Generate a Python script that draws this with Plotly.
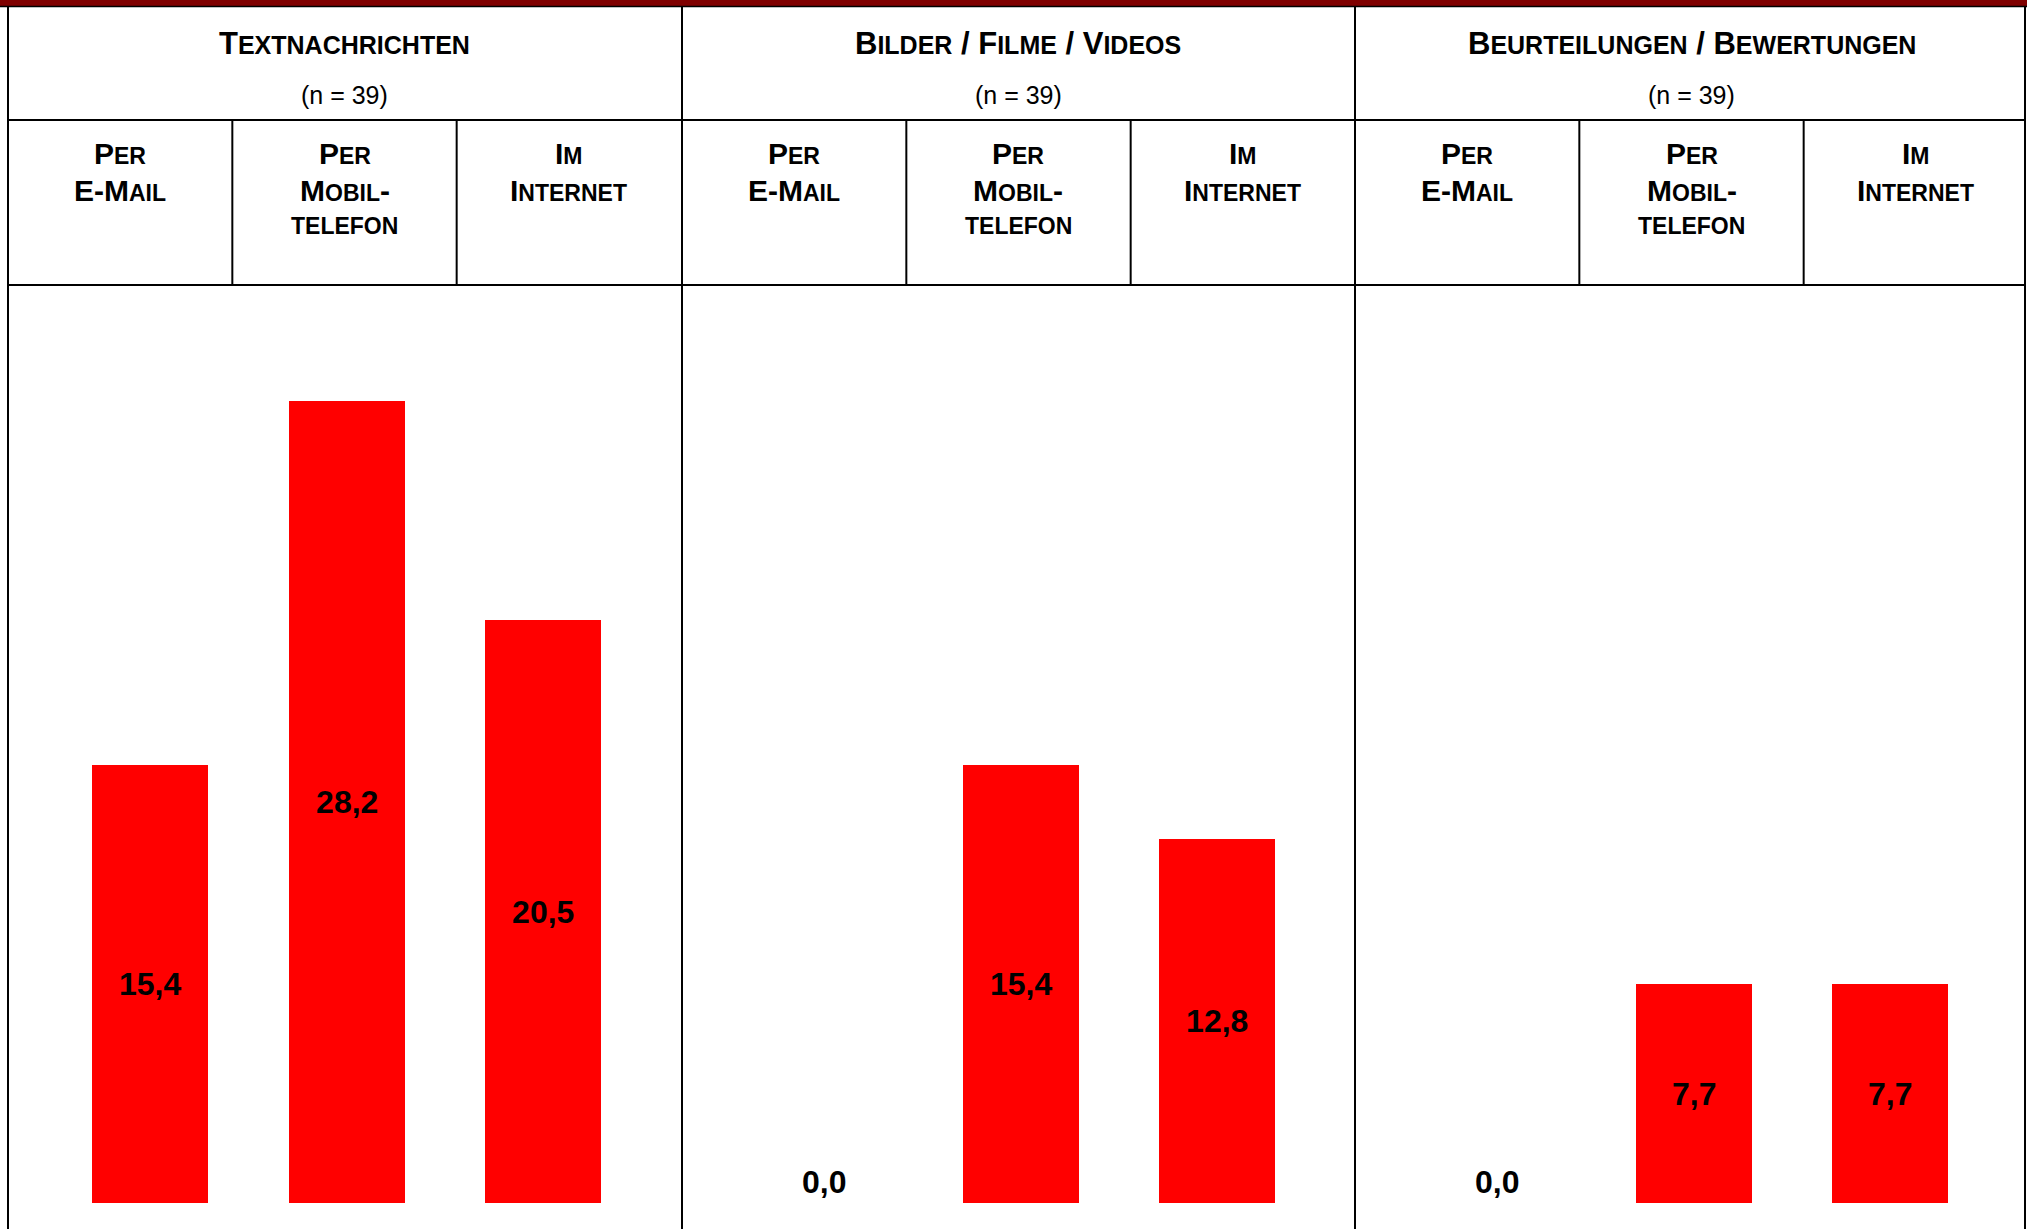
import plotly.graph_objects as go

# ---------------- data ----------------
panel_titles = ["Textnachrichten", "Bilder / Filme / Videos", "Beurteilungen / Bewertungen"]
panel_n = [39, 39, 39]
categories = ["Per E-Mail", "Per Mobiltelefon", "Im Internet"]
category_header_lines = [["Per", "E-Mail"], ["Per", "Mobil-", "telefon"], ["Im", "Internet"]]
values_textnachrichten = [15.4, 28.2, 20.5]
values_bilder = [0.0, 15.4, 12.8]
values_beurteilungen = [0.0, 7.7, 7.7]
series = [values_textnachrichten, values_bilder, values_beurteilungen]

# ---------------- layout constants (pixels) ----------------
W, H = 2029, 1229
FONT = "Liberation Sans, Arial, sans-serif"
panel_left = [8, 682, 1355]
panel_w = 673
table_right = 2025
row1_y, row2_y = 120, 285
base_y = 1203
px_per_unit = 28.44
plot_top_y = 290


def px(x):
    return x / W


def py(y):
    return 1 - y / H


def small_caps(text, big, small):
    out = []
    run, run_small = "", None
    for ch in text:
        is_small = ch.islower()
        if run_small is None or is_small == run_small:
            run += ch.upper()
            run_small = is_small
        else:
            out.append((run, run_small))
            run, run_small = ch.upper(), is_small
    if run:
        out.append((run, run_small))
    return "".join(
        f'<span style="font-size:{small if s else big}px">{r}</span>' for r, s in out
    )


fig = go.Figure()

for k, vals in enumerate(series):
    xa = "x" if k == 0 else f"x{k+1}"
    ya = "y" if k == 0 else f"y{k+1}"
    fig.add_trace(go.Bar(
        x=categories, y=vals, xaxis=xa, yaxis=ya,
        marker=dict(color="#FF0000", line=dict(width=0)),
        width=0.59,
        texttemplate="<b>%{y:.1f}</b>",
        textposition=["outside" if v == 0 else "inside" for v in vals],
        insidetextanchor="middle",
        textfont=dict(family=FONT, size=32, color="black"),
        insidetextfont=dict(family=FONT, size=32, color="black"),
        outsidetextfont=dict(family=FONT, size=32, color="black"),
        cliponaxis=False,
        showlegend=False,
        hoverinfo="skip",
    ))

yrange = (base_y - plot_top_y) / px_per_unit
layout_axes = {}
for k in range(3):
    cat_w = panel_w * 0.292
    left = panel_left[k] + 44.25
    right = left + 3 * cat_w
    xkey = "xaxis" if k == 0 else f"xaxis{k+1}"
    ykey = "yaxis" if k == 0 else f"yaxis{k+1}"
    layout_axes[xkey] = dict(domain=[px(left), px(right)], visible=False,
                             range=[-0.5, 2.5], fixedrange=True,
                             anchor="y" if k == 0 else f"y{k+1}")
    layout_axes[ykey] = dict(domain=[py(base_y), py(plot_top_y)], visible=False,
                             range=[0, yrange], anchor="x" if k == 0 else f"x{k+1}",
                             fixedrange=True)

shapes = []
line = dict(color="black", width=2)
# top dark red band
shapes.append(dict(type="rect", xref="paper", yref="paper", x0=0, x1=px(2027),
                   y0=py(6), y1=1, fillcolor="#7F0000", line=dict(width=0), layer="above"))
shapes.append(dict(type="line", xref="paper", yref="paper", x0=0, x1=px(2027),
                   y0=py(6.5), y1=py(6.5), line=dict(color="black", width=1.5)))
# vertical panel lines
for x in panel_left + [table_right]:
    shapes.append(dict(type="line", xref="paper", yref="paper", x0=px(x), x1=px(x),
                       y0=py(7), y1=0, line=line))
# horizontal header lines
for y in (row1_y, row2_y):
    shapes.append(dict(type="line", xref="paper", yref="paper", x0=px(8), x1=px(table_right),
                       y0=py(y), y1=py(y), line=line))
# sub-column dividers
for k in range(3):
    for j in (1, 2):
        x = panel_left[k] + panel_w * j / 3
        shapes.append(dict(type="line", xref="paper", yref="paper", x0=px(x), x1=px(x),
                           y0=py(row1_y), y1=py(row2_y), line=line))

annotations = []
for k in range(3):
    cx = panel_left[k] + panel_w / 2
    annotations.append(dict(
        xref="paper", yref="paper", x=px(cx), y=py(43), xanchor="center", yanchor="middle",
        text="<b>" + small_caps(panel_titles[k], 31, 25) + "</b>", showarrow=False,
        font=dict(family=FONT, size=31, color="black")))
    annotations.append(dict(
        xref="paper", yref="paper", x=px(cx), y=py(95), xanchor="center", yanchor="middle",
        text=f"(n = {panel_n[k]})", showarrow=False,
        font=dict(family=FONT, size=25, color="black")))
    sub_w = panel_w / 3
    baselines = [164, 201, 234]
    for j, lines in enumerate(category_header_lines):
        scx = panel_left[k] + sub_w * (j + 0.5)
        for li, txt in enumerate(lines):
            has_big = any(c.isupper() for c in txt)
            size = 30 if has_big else 23
            annotations.append(dict(
                xref="paper", yref="paper", x=px(scx), y=py(baselines[li] - 0.35 * size),
                xanchor="center", yanchor="middle",
                text="<b>" + small_caps(txt, 30, 23) + "</b>", showarrow=False,
                font=dict(family=FONT, size=size, color="black")))

fig.update_layout(
    width=W, height=H, margin=dict(l=0, r=0, t=0, b=0),
    paper_bgcolor="white", plot_bgcolor="white",
    separators=",.",
    shapes=shapes, annotations=annotations,
    bargap=0,
    **layout_axes,
)

fig.write_html("out.html", config={"displayModeBar": False},
               post_script="document.body.style.margin='0';")
